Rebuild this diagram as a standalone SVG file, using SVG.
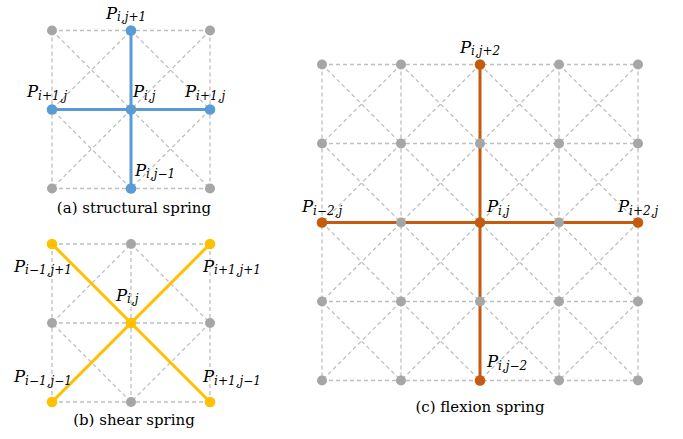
<svg xmlns="http://www.w3.org/2000/svg" width="683" height="439" viewBox="0 0 683 439">
<style>
.mesh{fill:none;stroke:#bfbfbf;stroke-width:1.3;stroke-dasharray:4 3}
.dot{fill:#a6a6a6}
.blue{fill:#5b9bd5}.yel{fill:#ffc000}.org{fill:#c55a11}
.sb{stroke:#5b9bd5;stroke-width:3;fill:none}
.sy{stroke:#ffc000;stroke-width:3;fill:none}
.so{stroke:#c55a11;stroke-width:3;fill:none}
.lbl{font-family:"DejaVu Serif","Liberation Serif",serif;font-style:italic;font-size:16.5px;fill:#000}
.sub{font-size:12px}
.cap{font-family:"DejaVu Serif","Liberation Serif",serif;font-size:15px;fill:#000;text-anchor:middle}
</style>
<rect width="683" height="439" fill="#fff"/>
<g id="mesh">
<path class="mesh" d="M52 30.5H210M52 109.5H210M52 188.5H210M52 30.5V188.5M131 30.5V188.5M210 30.5V188.5M52 30.5L210 188.5M210 30.5L52 188.5M131 30.5L210 109.5L131 188.5L52 109.5Z"/>
<path class="mesh" d="M52 244H210M52 323H210M52 402H210M52 244V402M131 244V402M210 244V402M52 244L210 402M210 244L52 402M131 244L210 323L131 402L52 323Z"/>
<path class="mesh" d="M322 64.5H638M322 143.5H638M322 222.5H638M322 301.5H638M322 380.5H638M322 64.5V380.5M401 64.5V380.5M480 64.5V380.5M559 64.5V380.5M638 64.5V380.5M322 64.5L638 380.5M401 64.5L638 301.5M480 64.5L638 222.5M559 64.5L638 143.5M322 143.5L559 380.5M322 222.5L480 380.5M322 301.5L401 380.5M401 64.5L322 143.5M480 64.5L322 222.5M559 64.5L322 301.5M638 64.5L322 380.5M638 143.5L401 380.5M638 222.5L480 380.5M638 301.5L559 380.5"/>
</g>
<g id="connectors">
<path class="sb" d="M52 109.5H210M131 30.5V188.5"/>
<path class="sy" d="M52 244L210 402M210 244L52 402"/>
<path class="so" d="M322 222.5H638M480 64.5V380.5"/>
</g>
<g id="panel-a-nodes">
<circle class="dot" cx="52" cy="30.5" r="5"/><circle class="dot" cx="210" cy="30.5" r="5"/>
<circle class="dot" cx="52" cy="188.5" r="5"/><circle class="dot" cx="210" cy="188.5" r="5"/>
<g id="a-top"><circle class="blue" cx="131" cy="30.5" r="5.3"/><text class="lbl" x="106" y="18.5">P<tspan class="sub" dy="2.5">i,j+1</tspan></text></g>
<g id="a-left"><circle class="blue" cx="52" cy="109.5" r="5.3"/><text class="lbl" x="27" y="97">P<tspan class="sub" dy="2.5">i+1,j</tspan></text></g>
<g id="a-center"><circle class="blue" cx="131" cy="109.5" r="5.3"/><text class="lbl" x="133" y="97">P<tspan class="sub" dy="2.5">i,j</tspan></text></g>
<g id="a-right"><circle class="blue" cx="210" cy="109.5" r="5.3"/><text class="lbl" x="185" y="97">P<tspan class="sub" dy="2.5">i+1,j</tspan></text></g>
<g id="a-bottom"><circle class="blue" cx="131" cy="188.5" r="5.3"/><text class="lbl" x="135" y="175.5">P<tspan class="sub" dy="2.5">i,j−1</tspan></text></g>
<text class="cap" x="134" y="212.5">(a) structural spring</text>
</g>
<g id="panel-b-nodes">
<circle class="dot" cx="131" cy="244" r="5"/><circle class="dot" cx="52" cy="323" r="5"/>
<circle class="dot" cx="210" cy="323" r="5"/><circle class="dot" cx="131" cy="402" r="5"/>
<g id="b-tl"><circle class="yel" cx="52" cy="244" r="5.3"/><text class="lbl" x="14" y="271.5">P<tspan class="sub" dy="2.5">i−1,j+1</tspan></text></g>
<g id="b-tr"><circle class="yel" cx="210" cy="244" r="5.3"/><text class="lbl" x="203" y="271.5">P<tspan class="sub" dy="2.5">i+1,j+1</tspan></text></g>
<g id="b-center"><circle class="yel" cx="131" cy="323" r="5.3"/><text class="lbl" x="116" y="300.5">P<tspan class="sub" dy="2.5">i,j</tspan></text></g>
<g id="b-bl"><circle class="yel" cx="52" cy="402" r="5.3"/><text class="lbl" x="14" y="382">P<tspan class="sub" dy="2.5">i−1,j−1</tspan></text></g>
<g id="b-br"><circle class="yel" cx="210" cy="402" r="5.3"/><text class="lbl" x="203" y="382">P<tspan class="sub" dy="2.5">i+1,j−1</tspan></text></g>
<text class="cap" x="134" y="424.5">(b) shear spring</text>
</g>
<g id="panel-c-nodes">
<circle class="dot" cx="322" cy="64.5" r="5"/><circle class="dot" cx="401" cy="64.5" r="5"/><circle class="dot" cx="559" cy="64.5" r="5"/><circle class="dot" cx="638" cy="64.5" r="5"/>
<circle class="dot" cx="322" cy="143.5" r="5"/><circle class="dot" cx="401" cy="143.5" r="5"/><circle class="dot" cx="480" cy="143.5" r="5"/><circle class="dot" cx="559" cy="143.5" r="5"/><circle class="dot" cx="638" cy="143.5" r="5"/>
<circle class="dot" cx="401" cy="222.5" r="5"/><circle class="dot" cx="559" cy="222.5" r="5"/>
<circle class="dot" cx="322" cy="301.5" r="5"/><circle class="dot" cx="401" cy="301.5" r="5"/><circle class="dot" cx="480" cy="301.5" r="5"/><circle class="dot" cx="559" cy="301.5" r="5"/><circle class="dot" cx="638" cy="301.5" r="5"/>
<circle class="dot" cx="322" cy="380.5" r="5"/><circle class="dot" cx="401" cy="380.5" r="5"/><circle class="dot" cx="559" cy="380.5" r="5"/><circle class="dot" cx="638" cy="380.5" r="5"/>
<g id="c-top"><circle class="org" cx="480" cy="64.5" r="5.3"/><text class="lbl" x="460" y="52.5">P<tspan class="sub" dy="2.5">i,j+2</tspan></text></g>
<g id="c-left"><circle class="org" cx="322" cy="222.5" r="5.3"/><text class="lbl" x="302" y="212">P<tspan class="sub" dy="2.5">i−2,j</tspan></text></g>
<g id="c-center"><circle class="org" cx="480" cy="222.5" r="5.3"/><text class="lbl" x="487" y="212">P<tspan class="sub" dy="2.5">i,j</tspan></text></g>
<g id="c-right"><circle class="org" cx="638" cy="222.5" r="5.3"/><text class="lbl" x="618" y="212">P<tspan class="sub" dy="2.5">i+2,j</tspan></text></g>
<g id="c-bottom"><circle class="org" cx="480" cy="380.5" r="5.3"/><text class="lbl" x="487" y="367">P<tspan class="sub" dy="2.5">i,j−2</tspan></text></g>
<text class="cap" x="480" y="412">(c) flexion spring</text>
</g>
</svg>
